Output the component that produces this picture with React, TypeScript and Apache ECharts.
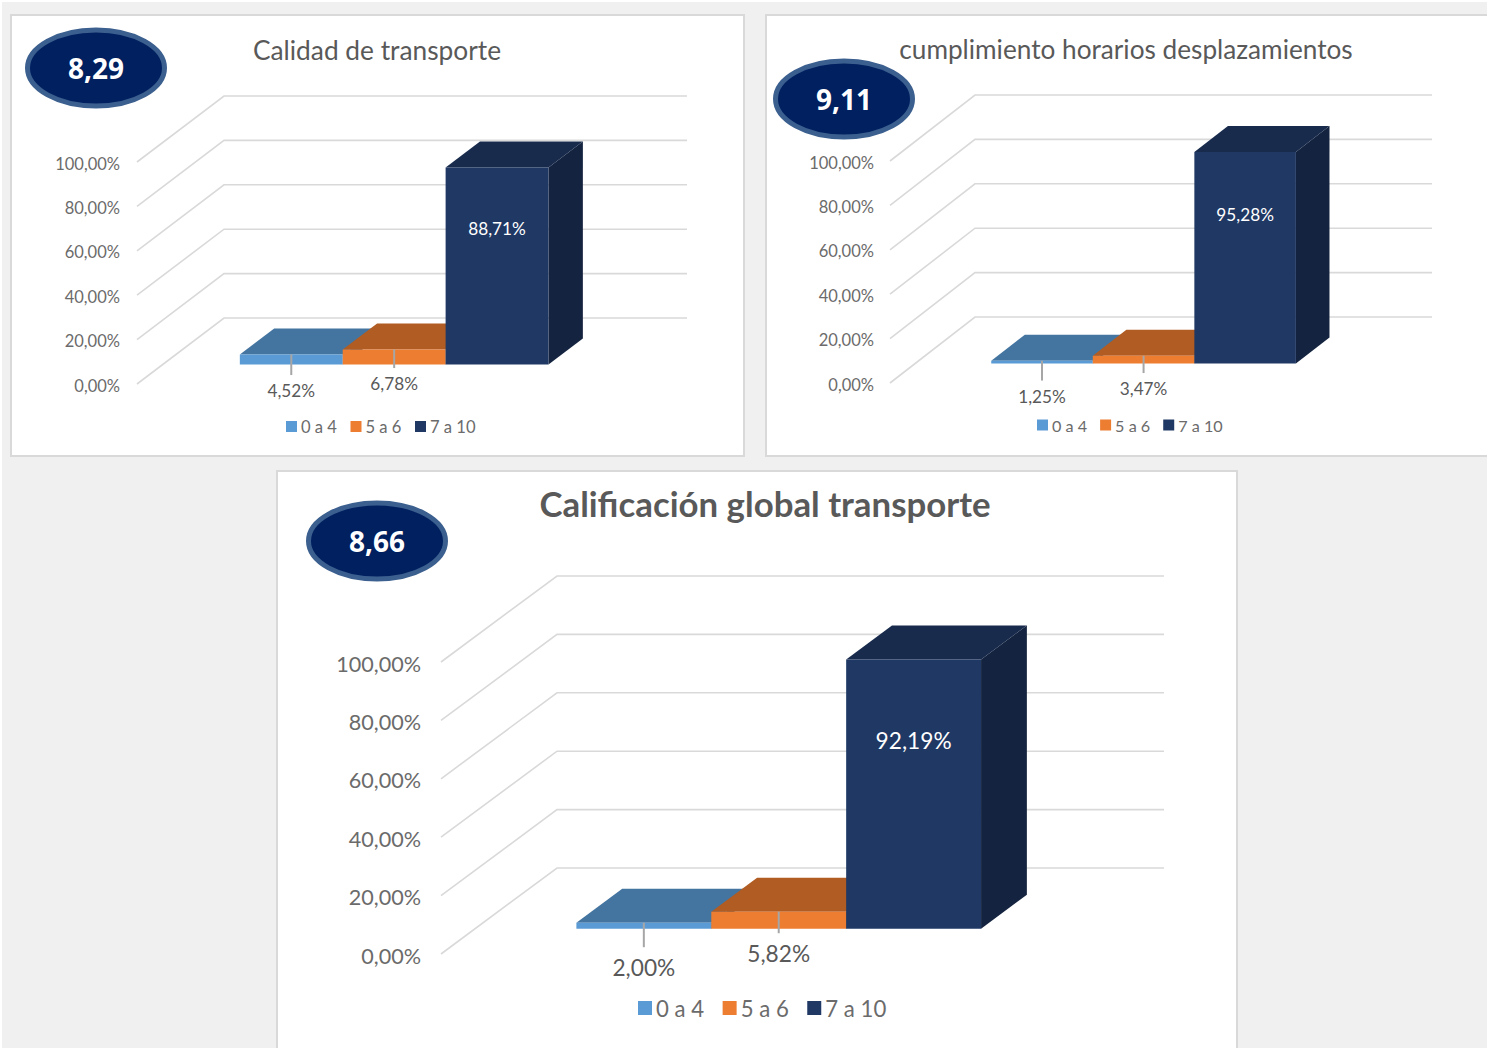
import React, { useEffect, useRef } from "react";
import * as echarts from "echarts";

const legendNames = ["0 a 4", "5 a 6", "7 a 10"];
const plotLabel = [""];
const axisTicks = [0, 20, 40, 60, 80, 100];
const calidadValues = [4.52, 6.78, 88.71];
const horariosValues = [1.25, 3.47, 95.28];
const globalValues = [2.0, 5.82, 92.19];
const chartTitles = ["Calidad de transporte", "cumplimiento horarios desplazamientos", "Calificación global transporte"];
const scores = ["8,29", "9,11", "8,66"];

const FONT = "Lato";
const frontColors = ["#5B9BD5", "#ED7D31", "#1F3864"];
const topColors = ["#4475A0", "#B05C22", "#182B4D"];
const sideColors = ["#3A6288", "#8C4A1B", "#14233F"];

const charts = [
  {
    values: calidadValues, title: chartTitles[0], score: scores[0],
    panel: [11, 15, 733, 441], left: 137, top: 162, width: 463, height: 222, depth: [87, -66],
    tickFont: 16.5, labelFont: 17.2, labelMargin: 17, labelDrops: [26, 19], titleX: 377, titleY: 50, titleFont: 26.3, titleWeight: "normal",
    ellipse: [96, 68], legendLeft: 286, legendTop: 418, legendIcon: 11, legendFont: 16.6, legendGap: 13.5, innerFont: 17.2, innerPos: 0.69,
  },
  {
    values: horariosValues, title: chartTitles[1], score: scores[1],
    panel: [766, 15, 740, 441], left: 890, top: 161, width: 457, height: 222, depth: [85, -66],
    tickFont: 16.5, labelFont: 17.2, labelMargin: 16, labelDrops: [32.5, 25], titleX: 1126, titleY: 49, titleFont: 26.2, titleWeight: "normal",
    ellipse: [844, 99], legendLeft: 1037, legendTop: 417, legendIcon: 11, legendFont: 16.2, legendGap: 13, innerFont: 17.2, innerPos: 0.705,
  },
  {
    values: globalValues, title: chartTitles[2], score: scores[2],
    panel: [277, 471, 960, 600], left: 441, top: 662, width: 607, height: 292, depth: [116, -86],
    tickFont: 21.6, labelFont: 22.7, labelMargin: 20, labelDrops: [39, 25], titleX: 765, titleY: 503, titleFont: 34.8, titleWeight: "bold",
    ellipse: [377, 541], legendLeft: 638, legendTop: 997, legendIcon: 14, legendFont: 22.2, legendGap: 18.5, innerFont: 22.7, innerPos: 0.7,
  },
];

const T_FRONT = 0.295;
const T_BACK = 0.69;
const GAP_RATIO = 0.75;

const pct = (v: number) => v.toFixed(2).replace(".", ",") + "%";

function buildOption() {
  const grid: any[] = [], xAxis: any[] = [], yAxis: any[] = [], series: any[] = [], title: any[] = [], legend: any[] = [];
  const graphic: any[] = [
    { type: "rect", z: -3, shape: { x: 2, y: 2, width: 1485, height: 1046 }, style: { fill: "#F0F0F0" } },
  ];
  charts.forEach((c, i) => {
    grid.push({ left: c.left, top: c.top, width: c.width, height: c.height, containLabel: false });
    xAxis.push({ gridIndex: i, type: "category", data: plotLabel, show: false });
    yAxis.push({
      gridIndex: i, type: "value", min: 0, max: 100, interval: 20,
      axisLine: { show: false }, axisTick: { show: false }, splitLine: { show: false },
      axisLabel: {
        margin: c.labelMargin, color: "#6B6B6B", fontSize: c.tickFont, fontFamily: FONT,
        formatter: (v: number) => `{t|${pct(v)}}`,
        rich: { t: { padding: [3, 0, 0, 0], color: "#6B6B6B", fontSize: c.tickFont, fontFamily: FONT } },
      },
    });
    title.push({
      text: c.title, left: c.titleX, top: c.titleY, textAlign: "center", textVerticalAlign: "middle", padding: 0,
      textStyle: { color: "#595959", fontSize: c.titleFont, fontWeight: c.titleWeight, fontFamily: FONT },
    });
    legend.push({
      data: legendNames, left: c.legendLeft, top: c.legendTop, orient: "horizontal", icon: "rect",
      itemWidth: c.legendIcon, itemHeight: c.legendIcon, itemGap: c.legendGap, selectedMode: false, padding: 0,
      textStyle: { color: "#6B6B6B", fontSize: c.legendFont, fontFamily: FONT, padding: [0, 0, 0, -1] },
    });
    const [dx, dy] = c.depth;

    // walls and floor grid lines, one per axis tick
    series.push({
      type: "custom", name: "walls" + i, xAxisIndex: i, yAxisIndex: i, silent: true, z: 1,
      encode: { x: 0, y: 1 }, data: axisTicks.map((t) => [0, t]),
      renderItem: (_p: any, api: any) => {
        const p = api.coord([api.value(0), api.value(1)]);
        const w = api.size([1, 0])[0];
        const x0 = p[0] - w / 2;
        return {
          type: "polyline",
          shape: { points: [[x0, p[1]], [x0 + dx, p[1] + dy], [x0 + dx + w, p[1] + dy]] },
          style: { stroke: "#D9D9D9", fill: "none", lineWidth: 1.6 },
        };
      },
    });

    // bars
    legendNames.forEach((name, s) => {
      series.push({
        type: "custom", name, xAxisIndex: i, yAxisIndex: i, silent: true, z: 3 + s,
        itemStyle: { color: frontColors[s] },
        encode: { x: 0, y: 1 }, data: [[0, c.values[s]]],
        renderItem: (_p: any, api: any) => {
          const val = api.value(1);
          const base = api.coord([0, 0]);
          const top = api.coord([0, val]);
          const band = api.size([1, 0])[0];
          const bw = band / (3 + 2 * GAP_RATIO);
          const bandLeft = base[0] - band / 2;
          const fx = bandLeft + dx * T_FRONT + bw * (GAP_RATIO + s);
          const by = base[1] + dy * T_FRONT;
          const ty = top[1] + dy * T_FRONT;
          const ddx = dx * (T_BACK - T_FRONT);
          const ddy = dy * (T_BACK - T_FRONT);
          const children: any[] = [
            { type: "polygon", shape: { points: [[fx + bw, by], [fx + bw + ddx, by + ddy], [fx + bw + ddx, ty + ddy], [fx + bw, ty]] }, style: { fill: sideColors[s] } },
            { type: "polygon", shape: { points: [[fx, ty], [fx + ddx, ty + ddy], [fx + bw + ddx, ty + ddy], [fx + bw, ty]] }, style: { fill: topColors[s] } },
            { type: "rect", shape: { x: fx, y: ty, width: bw, height: by - ty }, style: { fill: frontColors[s] } },
          ];
          const cx = fx + bw / 2;
          if (s < 2) {
            const drop = c.labelDrops[s];
            const ly = by + drop;
            children.push({ type: "line", shape: { x1: cx, y1: ty, x2: cx, y2: ly - c.labelFont * 0.9 }, style: { stroke: "#A6A6A6", lineWidth: 2 } });
            children.push({ type: "text", x: cx, y: ly, style: { text: pct(val), fill: "#595959", fontSize: c.labelFont, fontFamily: FONT, align: "center", verticalAlign: "middle" } });
          } else {
            children.push({ type: "text", x: cx, y: by - (by - ty) * c.innerPos, style: { text: pct(val), fill: "#FFFFFF", fontSize: c.innerFont, fontFamily: FONT, align: "center", verticalAlign: "middle" } });
          }
          return { type: "group", children };
        },
      });
    });

    graphic.push({
      type: "rect", z: -2, shape: { x: c.panel[0], y: c.panel[1], width: c.panel[2], height: c.panel[3] },
      style: { fill: "#FFFFFF", stroke: "#D9D9D9", lineWidth: 2 },
    });
    graphic.push({
      type: "ellipse", z: 50, shape: { cx: c.ellipse[0], cy: c.ellipse[1], rx: 68.5, ry: 38 },
      style: { fill: "#002060", stroke: "#3B5F8E", lineWidth: 5 },
    });
    graphic.push({
      type: "text", z: 51, x: c.ellipse[0], y: c.ellipse[1],
      style: { text: c.score, fill: "#FFFFFF", fontSize: 28, fontWeight: "bold", fontFamily: "Open Sans", align: "center", verticalAlign: "middle" },
    });
  });
  return { animation: false, backgroundColor: "#FFFFFF", grid, xAxis, yAxis, series, title, legend, graphic };
}

export default function App() {
  const ref = useRef<HTMLDivElement>(null);
  useEffect(() => {
    const chart = echarts.init(ref.current!, undefined, { renderer: "svg" });
    chart.setOption(buildOption() as any);
    return () => chart.dispose();
  }, []);
  return <div ref={ref} style={{ position: "fixed", left: 0, top: 0, width: 1487, height: 1048 }} />;
}
